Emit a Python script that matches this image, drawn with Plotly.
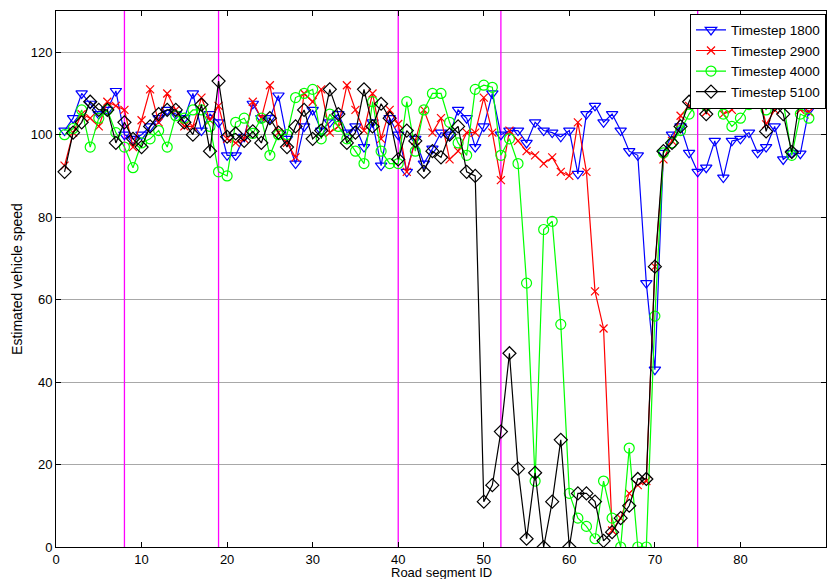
import plotly.graph_objects as go

segment_ids = list(range(1, 89))

speed_1800 = [101, 104, 110, 107.5, 105, 106, 110.6, 100, 99, 100,
              102, 104, 106, 105, 104, 110, 101, 105, 103, 95,
              95, 99.5, 107.5, 104, 104, 109.5, 99, 93, 102, 106,
              101, 103, 105, 100.5, 102, 97, 103, 92.5, 104, 100,
              91, 99, 93, 96.6, 100.5, 100, 106, 104, 97, 102,
              110, 100, 101, 101, 98, 103, 101, 100.5, 99.5, 101,
              90.5, 105, 107, 103, 105, 101, 96, 95, 64, 43,
              95.6, 100, 102, 95.6, 91, 92, 98.5, 89.6, 98.5, 99,
              100.5, 95.6, 97, 102, 94, 95.6, 95.4, 106]

speed_2900 = [92.5, 100.5, 105, 104, 102, 108, 107, 106, 97, 103.5,
              111, 103, 110, 106, 102, 102, 109, 103.5, 107, 99,
              98, 99, 108, 104, 112, 100.5, 98, 94.5, 110, 108,
              111, 100.5, 102, 112, 106, 101, 110, 99, 106, 102.6,
              91, 98.5, 106, 100.5, 104, 94, 96, 100.5, 100.5, 109,
              100.5, 89, 101, 98.5, 96, 95, 93, 94.5, 91, 90,
              103, 91, 62, 53, 4, 7, 13, 15, 16, 68,
              94, 98.5, 104.6, 107, 109.2, 105.5, 112, 105, 106, 110.3,
              113, 111, 102.5, 106, 112, 110, 106, 105.5]

speed_4000 = [100, 101.5, 106, 97, 104, 106, 100.5, 97, 92, 98,
              99, 101, 97, 104.6, 104, 106, 106, 102, 91, 90,
              103, 104, 100.3, 104, 95, 100, 100, 109, 110, 111,
              99, 105, 102, 99, 96, 93, 108, 96, 93, 93,
              108, 96, 106, 110, 110, 103, 98, 95, 111, 112,
              111.5, 95, 99, 93, 64, 16, 77, 79, 54, 13,
              7, 5, 2, 16, 7, 0, 24, 0, 0, 56,
              95.6, 98, 101, 105, 108, 107, 109, 105, 102, 104,
              107.3, 110, 106, 110, 108, 95, 105, 104]

speed_5100 = [91, 100.5, 103, 108, 106, 106, 98, 103, 99, 97,
              102, 105, 106, 106, 103, 100, 107.3, 96, 113, 99.5,
              100.3, 98.5, 100.8, 98, 104, 100.5, 97, 102, 106, 99,
              101, 111, 105, 98, 100.5, 111, 102, 107.5, 104, 94,
              101, 98.5, 91, 96, 94.5, 100, 102, 91, 90, 11,
              15, 28, 47, 19, 2, 18, 0, 11, 26, 0,
              13, 13, 11, 1.5, 3.6, 7, 10, 16.5, 16.5, 68,
              96, 98, 102, 108, 112, 105, 113, 109.2, 112, 112,
              110, 112, 100.8, 107.3, 105, 95.8, 109.5, 109]

boundaries = [8, 19, 40, 52, 75]

series = [
    ("Timestep 1800", speed_1800, "#0000ff", "triangle-down-open", 10),
    ("Timestep 2900", speed_2900, "#ff0000", "x-thin-open", 8),
    ("Timestep 4000", speed_4000, "#00ff00", "circle-open", 10),
    ("Timestep 5100", speed_5100, "#000000", "diamond-open", 10),
]

fig = go.Figure()

for b in boundaries:
    fig.add_trace(go.Scatter(x=[b, b], y=[0, 130], mode="lines",
                             line=dict(color="#ff00ff", width=1.3),
                             showlegend=False, hoverinfo="skip"))

for name, vals, color, sym, size in series:
    fig.add_trace(go.Scatter(
        x=segment_ids, y=vals, mode="lines+markers", name=name,
        line=dict(color=color, width=1.2),
        marker=dict(symbol=sym, size=size, color=color,
                    line=dict(color=color, width=1.2)),
    ))

fam = "Liberation Sans, Arial, sans-serif"
axis_font = dict(family=fam, size=13, color="#000000")

fig.update_layout(
    width=831, height=579,
    margin=dict(l=56, r=5, t=11, b=32),
    paper_bgcolor="#ffffff", plot_bgcolor="#ffffff",
    font=axis_font,
    showlegend=True,
    legend=dict(x=1, y=0.995, xanchor="right", yanchor="top",
                bgcolor="#ffffff", bordercolor="#000000", borderwidth=1,
                font=dict(family=fam, size=13.5, color="#000000"),
                tracegroupgap=0),
    annotations=[dict(text="Road segment ID", xref="paper", yref="paper",
                      x=0.5, y=0, xanchor="center", yanchor="top",
                      yshift=-17, showarrow=False, borderpad=0,
                      font=dict(family=fam, size=13, color="#000000"))],
)

fig.update_xaxes(
    range=[0, 90], tickvals=list(range(0, 91, 10)),
    showline=True, linecolor="#000000", linewidth=1, mirror="ticks",
    ticks="inside", ticklen=5, tickcolor="#000000",
    showgrid=False, zeroline=False, automargin=False,
    tickfont=axis_font,
)
fig.update_yaxes(
    range=[0, 130], tickvals=list(range(0, 121, 20)),
    showline=True, linecolor="#000000", linewidth=1, mirror="ticks",
    ticks="inside", ticklen=5, tickcolor="#000000",
    showgrid=True, gridcolor="#a8a8a8", gridwidth=1, zeroline=False, automargin=False,
    title=dict(text="Estimated vehicle speed", font=dict(family=fam, size=14), standoff=4),
    tickfont=axis_font,
)

fig.write_html("out.html")
